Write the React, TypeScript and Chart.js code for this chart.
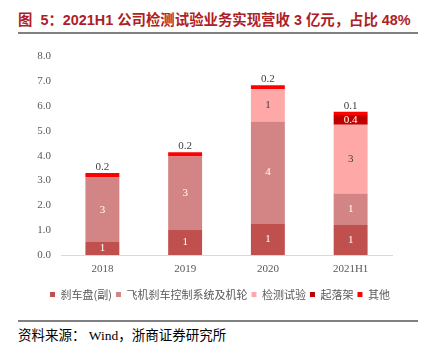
import React, { useEffect, useRef } from "react";
import { Chart, registerables } from "chart.js";

Chart.register(...registerables);

const categories = ["2018", "2019", "2020", "2021H1"];
const seriesNames = ["刹车盘(副)", "飞机刹车控制系统及机轮", "检测试验", "起落架", "其他"];
const brakeDisc = [0.52, 1.01, 1.27, 1.21];
const brakeSystem = [2.61, 2.96, 4.11, 1.27];
const testing = [null, null, 1.3, 2.77];
const landingGear = [null, null, null, 0.4];
const others = [0.18, 0.17, 0.16, 0.13];
const yTicks = [0, 1, 2, 3, 4, 5, 6, 7, 8];

const seriesValues = [brakeDisc, brakeSystem, testing, landingGear, others];
const seriesColors = ["#C0504D", "#D38585", "#FFA8A8", "#C00000", "#FF0000"];
const labelColors = ["#FFFFFF", "#FFFFFF", "#404040", "#FFFFFF", "#404040"];
const labelDecimals = [0, 0, 0, 1, 1];
const labelOutside = [false, false, false, false, true];

const SERIF = '"Liberation Serif", "Times New Roman", "Noto Sans CJK SC", serif';

const segLabels = {
  id: "segLabels",
  afterDatasetsDraw(chart: any) {
    const ctx = chart.ctx;
    ctx.save();
    ctx.font = `11px ${SERIF}`;
    ctx.textAlign = "center";
    ctx.textBaseline = "middle";
    chart.data.datasets.forEach((ds: any, di: number) => {
      const meta = chart.getDatasetMeta(di);
      meta.data.forEach((el: any, i: number) => {
        const v = ds.data[i];
        if (v == null) return;
        const { x, y, base } = el.getProps(["x", "y", "base"], true);
        const txt = labelDecimals[di] === 0 ? String(Math.round(v)) : v.toFixed(1);
        const ty = labelOutside[di] ? Math.min(y, base) - 6 : (y + base) / 2;
        ctx.fillStyle = labelOutside[di] ? "#404040" : labelColors[di];
        ctx.fillText(txt, x, ty);
      });
    });
    ctx.restore();
  },
};

const shiftLegend = {
  id: "shiftLegend",
  afterLayout(chart: any) {
    const l = chart.legend;
    if (l) {
      l.left += 24;
      l.right += 24;
    }
  },
};

export default function App() {
  const ref = useRef<HTMLCanvasElement>(null);
  useEffect(() => {
    if (!ref.current) return;
    const chart = new Chart(ref.current, {
      type: "bar",
      data: {
        labels: categories,
        datasets: seriesNames.map((name, i) => ({
          label: name,
          data: seriesValues[i] as any,
          backgroundColor: seriesColors[i],
          borderWidth: 0,
          barPercentage: 0.41,
          categoryPercentage: 1,
        })),
      },
      options: {
        animation: false,
        responsive: false,
        devicePixelRatio: 1,
        layout: { padding: { top: 16, right: 32, bottom: 0, left: 0 } },
        plugins: {
          tooltip: { enabled: false },
          legend: {
            position: "bottom",
            labels: {
              boxWidth: 5,
              boxHeight: 5,
              padding: 4,
              color: "#595959",
              font: { size: 11, family: '"Noto Sans CJK SC", sans-serif' },
            },
          },
        },
        scales: {
          x: {
            stacked: true,
            grid: { display: false, drawTicks: false },
            border: { display: true, color: "#D9D9D9", width: 1 },
            ticks: { color: "#595959", font: { size: 11, family: SERIF }, padding: 8 },
            afterFit: (s: any) => {
              s.height = 30;
            },
          },
          y: {
            stacked: true,
            min: 0,
            max: 8,
            afterBuildTicks: (s: any) => {
              s.ticks = yTicks.map((v) => ({ value: v }));
            },
            grid: { display: false, drawTicks: false },
            border: { display: false },
            ticks: {
              color: "#595959",
              font: { size: 11, family: SERIF },
              padding: 10,
              callback: (v: any) => Number(v).toFixed(1),
            },
            afterFit: (s: any) => {
              s.width = 61;
            },
          },
        },
      },
      plugins: [segLabels, shiftLegend],
    });
    return () => chart.destroy();
  }, []);

  return (
    <div style={{ position: "fixed", left: 0, top: 0, width: 424, height: 353, background: "#fff", overflow: "hidden" }}>
      <div
        style={{
          position: "absolute",
          left: 18,
          top: 11,
          fontFamily: '"Liberation Sans", Arial, "Noto Sans CJK SC", sans-serif',
          fontWeight: "bold",
          fontSize: 14.4,
          lineHeight: "18px",
          color: "#AE1E26",
          whiteSpace: "pre",
        }}
      >
        {"图  5：2021H1 公司检测试验业务实现营收 3 亿元，占比 48%"}
      </div>
      <div style={{ position: "absolute", left: 18, top: 32, width: 400, height: 2, background: "#808080" }} />
      <canvas ref={ref} width={424} height={270} style={{ position: "absolute", left: 0, top: 40, width: 424, height: 270 }} />
      <div style={{ position: "absolute", left: 18, top: 320, width: 400, height: 2, background: "#808080" }} />
      <div
        style={{
          position: "absolute",
          left: 18,
          top: 327,
          fontFamily: '"Liberation Serif", "Times New Roman", "Noto Sans CJK SC", serif',
          fontSize: 13.5,
          lineHeight: "18px",
          color: "#000",
          whiteSpace: "pre",
        }}
      >
        {"资料来源： Wind，浙商证券研究所"}
      </div>
    </div>
  );
}
